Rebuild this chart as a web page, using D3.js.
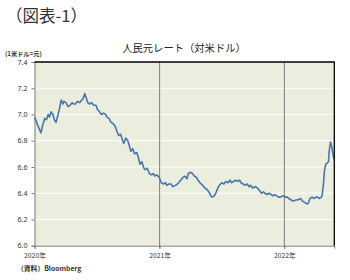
<!DOCTYPE html>
<html><head><meta charset="utf-8">
<script src="https://cdn.jsdelivr.net/npm/d3@7"></script>
<style>html,body{margin:0;padding:0;background:#fff;}svg{display:block;}</style>
</head><body>
<svg id="c" width="350" height="280"></svg>
<script>
const titleText = "（図表-1）";
const chartTitle = "人民元レート（対米ドル）";
const unitLabel = "(1米ドル=元)";
const sourceText = "（資料）Bloomberg";
const yTicks = [6.0, 6.2, 6.4, 6.6, 6.8, 7.0, 7.2, 7.4];
const xTickDates = ["2020-01-01", "2021-01-01", "2022-01-01"];
const xTickLabels = ["2020年", "2021年", "2022年"];
const dates = [
"2020-01-01","2020-01-06","2020-01-10","2020-01-15","2020-01-20","2020-01-24","2020-01-31","2020-02-05","2020-02-10","2020-02-14","2020-02-19","2020-02-24","2020-02-28","2020-03-04","2020-03-09","2020-03-13","2020-03-19","2020-03-24","2020-03-27","2020-04-02","2020-04-08","2020-04-14","2020-04-20","2020-04-24","2020-04-30","2020-05-06","2020-05-12","2020-05-18","2020-05-22","2020-05-27","2020-06-01","2020-06-05","2020-06-10","2020-06-16","2020-06-22","2020-06-29","2020-07-03","2020-07-09","2020-07-15","2020-07-21","2020-07-27","2020-07-31","2020-08-06","2020-08-12","2020-08-18","2020-08-24","2020-08-28","2020-09-03","2020-09-09","2020-09-15","2020-09-18","2020-09-24","2020-09-30","2020-10-09","2020-10-14","2020-10-20","2020-10-26","2020-10-30","2020-11-05","2020-11-10","2020-11-16","2020-11-20","2020-11-26","2020-12-02","2020-12-08","2020-12-14","2020-12-18","2020-12-24","2020-12-31",
"2021-01-06","2021-01-12","2021-01-18","2021-01-22","2021-01-28","2021-02-03","2021-02-09","2021-02-16","2021-02-22","2021-02-26","2021-03-04","2021-03-10","2021-03-16","2021-03-22","2021-03-26","2021-04-01","2021-04-07","2021-04-13","2021-04-19","2021-04-23","2021-04-29","2021-05-07","2021-05-13","2021-05-19","2021-05-25","2021-05-31","2021-06-04","2021-06-10","2021-06-16","2021-06-22","2021-06-28","2021-07-02","2021-07-08","2021-07-14","2021-07-20","2021-07-26","2021-07-30","2021-08-05","2021-08-11","2021-08-17","2021-08-23","2021-08-27","2021-09-02","2021-09-08","2021-09-14","2021-09-20","2021-09-24","2021-09-30","2021-10-08","2021-10-14","2021-10-20","2021-10-26","2021-11-01","2021-11-05","2021-11-11","2021-11-17","2021-11-23","2021-11-29","2021-12-03","2021-12-09","2021-12-15","2021-12-21","2021-12-27",
"2022-01-04","2022-01-10","2022-01-14","2022-01-20","2022-01-26","2022-02-07","2022-02-11","2022-02-17","2022-02-23","2022-03-01","2022-03-07","2022-03-11","2022-03-17","2022-03-23","2022-03-29","2022-04-04","2022-04-08","2022-04-14","2022-04-19","2022-04-21","2022-04-25","2022-04-28","2022-05-02","2022-05-06","2022-05-10","2022-05-12","2022-05-16","2022-05-19","2022-05-23","2022-05-26"
];
const values = [
6.98,6.95,6.92,6.89,6.86,6.91,6.97,6.96,7.00,6.98,7.02,7.00,6.96,6.94,6.99,7.03,7.11,7.08,7.10,7.09,7.06,7.07,7.09,7.08,7.08,7.10,7.09,7.11,7.12,7.16,7.12,7.09,7.08,7.09,7.07,7.07,7.04,7.02,7.00,7.01,7.00,6.98,6.97,6.94,6.93,6.91,6.88,6.84,6.85,6.80,6.78,6.82,6.80,6.72,6.74,6.70,6.71,6.68,6.62,6.64,6.59,6.58,6.59,6.55,6.54,6.55,6.53,6.54,6.52,
6.48,6.47,6.48,6.46,6.47,6.47,6.45,6.46,6.47,6.48,6.50,6.52,6.53,6.51,6.55,6.56,6.55,6.53,6.52,6.50,6.48,6.46,6.44,6.43,6.41,6.38,6.37,6.38,6.41,6.45,6.47,6.48,6.47,6.49,6.48,6.50,6.48,6.49,6.50,6.49,6.50,6.48,6.47,6.46,6.47,6.45,6.46,6.44,6.45,6.44,6.42,6.40,6.41,6.40,6.39,6.40,6.39,6.38,6.39,6.38,6.37,6.37,6.38,6.37,
6.37,6.36,6.35,6.34,6.35,6.35,6.36,6.34,6.33,6.32,6.32,6.36,6.37,6.36,6.37,6.37,6.36,6.37,6.38,6.46,6.57,6.62,6.63,6.64,6.72,6.79,6.76,6.70,6.66,6.66
];

const W = 350, H = 280;
const mLeft = 34.5, mRight = 334.3, mTop = 62, mBottom = 245.7;
const parse = d3.timeParse("%Y-%m-%d");
const data = dates.map((d, i) => ({ date: parse(d), value: values[i] }));

const x = d3.scaleTime().domain([parse("2020-01-01"), parse("2022-05-27")]).range([mLeft, mRight]);
const y = d3.scaleLinear().domain([6.0, 7.4]).range([mBottom, mTop]);

const svg = d3.select("#c");
const jp = "'Noto Sans CJK JP','Noto Sans',sans-serif";

svg.append("text").attr("x", 6).attr("y", 22).attr("font-family", "'Noto Sans CJK JP',serif")
  .attr("font-size", 16.5).attr("fill", "#333").text(titleText);

svg.append("text").attr("x", 184).attr("y", 51.5).attr("text-anchor", "middle").attr("font-family", jp)
  .attr("font-size", 10.3).attr("fill", "#222").text(chartTitle);

svg.append("text").attr("x", 5).attr("y", 55.5).attr("font-family", jp)
  .attr("font-size", 6.2).attr("font-weight", "bold").attr("fill", "#333").text(unitLabel);

// plot background
svg.append("rect").attr("x", mLeft).attr("y", mTop).attr("width", mRight - mLeft).attr("height", mBottom - mTop)
  .attr("fill", "#ebeddf");

// gridlines
svg.append("g").selectAll("line").data(yTicks.filter(v => v > 6.0 && v < 7.4)).join("line")
  .attr("x1", mLeft).attr("x2", mRight).attr("y1", d => y(d)).attr("y2", d => y(d))
  .attr("stroke", "#ffffff").attr("stroke-width", 1);

// vertical year lines
svg.append("g").selectAll("line").data(xTickDates.slice(1).map(parse)).join("line")
  .attr("x1", d => x(d)).attr("x2", d => x(d)).attr("y1", mTop).attr("y2", mBottom + 3)
  .attr("stroke", "#7f7f7f").attr("stroke-width", 1);

// y axis
const yAxis = d3.axisLeft(y).tickValues(yTicks).tickSize(3).tickPadding(4).tickFormat(d3.format(".1f"));
const gy = svg.append("g").attr("transform", `translate(${mLeft},0)`).call(yAxis);
gy.select(".domain").attr("stroke", "#7f7f7f");
gy.selectAll(".tick line").attr("stroke", "#7f7f7f");
gy.selectAll("text").attr("font-family", "'Noto Sans',sans-serif").attr("font-size", 7).attr("fill", "#333");

// x axis
const xAxis = d3.axisBottom(x).tickValues(xTickDates.map(parse)).tickSize(3).tickPadding(4)
  .tickFormat((d, i) => xTickLabels[i]);
const gx = svg.append("g").attr("transform", `translate(0,${mBottom})`).call(xAxis);
gx.select(".domain").attr("stroke", "#7f7f7f");
gx.selectAll(".tick line").attr("stroke", "#7f7f7f");
gx.selectAll("text").attr("font-family", jp).attr("font-size", 6.8).attr("fill", "#333");

// line
const line = d3.line().x(d => x(d.date)).y(d => y(d.value));
svg.append("path").datum(data).attr("d", line).attr("fill", "none")
  .attr("stroke", "#4a76ab").attr("stroke-width", 1.6).attr("stroke-linejoin", "round");

// frame top/right
svg.append("line").attr("x1", mLeft).attr("x2", mRight + 0.5).attr("y1", mTop).attr("y2", mTop)
  .attr("stroke", "#000").attr("stroke-width", 1.3);
svg.append("line").attr("x1", mRight).attr("x2", mRight).attr("y1", mTop).attr("y2", mBottom)
  .attr("stroke", "#000").attr("stroke-width", 1.3);

svg.append("text").attr("x", 17).attr("y", 271).attr("font-family", jp)
  .attr("font-size", 6.8).attr("font-weight", "bold").attr("fill", "#333").text(sourceText);
</script>
</body></html>
